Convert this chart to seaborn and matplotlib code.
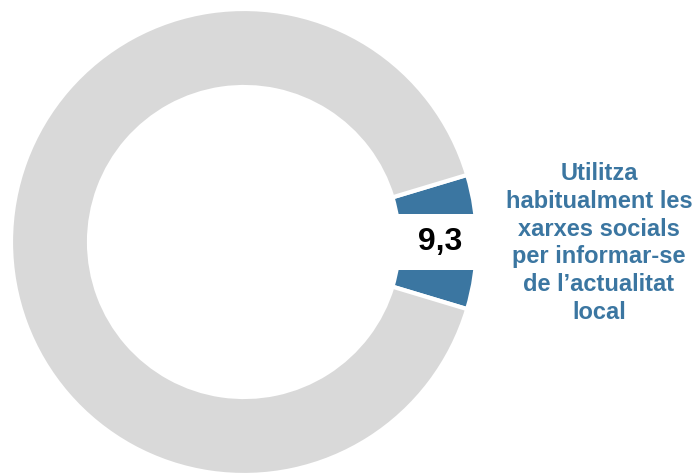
import matplotlib
matplotlib.use("Agg")
import matplotlib.pyplot as plt
import seaborn as sns

# data
categories = ["Utilitza habitualment les xarxes socials per informar-se de l\u2019actualitat local", "Resta"]
values = [9.3, 90.7]
value_label = "9,3"

sns.set_theme(style="white")
plt.rcParams['font.family'] = ['Liberation Sans', 'DejaVu Sans']

colors = ["#3B76A1", "#D9D9D9"]

fig = plt.figure(figsize=(6.95, 4.76), dpi=100)
ax = fig.add_axes([0, 0, 1, 1])

# center the small slice on the right side
start = -values[0] / sum(values) * 360 / 2
ax.pie(values, colors=colors, startangle=start, counterclock=True,
       radius=233, center=(244, 234),
       wedgeprops=dict(width=78, edgecolor="white", linewidth=3))
ax.set_xlim(0, 695)
ax.set_ylim(0, 476)
ax.set_aspect("equal")
ax.axis("off")

# value label on a white box that cuts through the slice
ax.text(440, 234, " " + value_label + " ", ha="center", va="center", fontsize=23,
        fontweight="bold", color="black",
        bbox=dict(facecolor="white", edgecolor="none", boxstyle="square,pad=0.41"))

label = "Utilitza\nhabitualment les\nxarxes socials\nper informar-se\nde l\u2019actualitat\nlocal"
ax.text(599, 233, label, ha="center", va="center", fontsize=17,
        fontweight="bold", color="#3B76A1", linespacing=1.27)

fig.savefig("out.png", dpi=100)
